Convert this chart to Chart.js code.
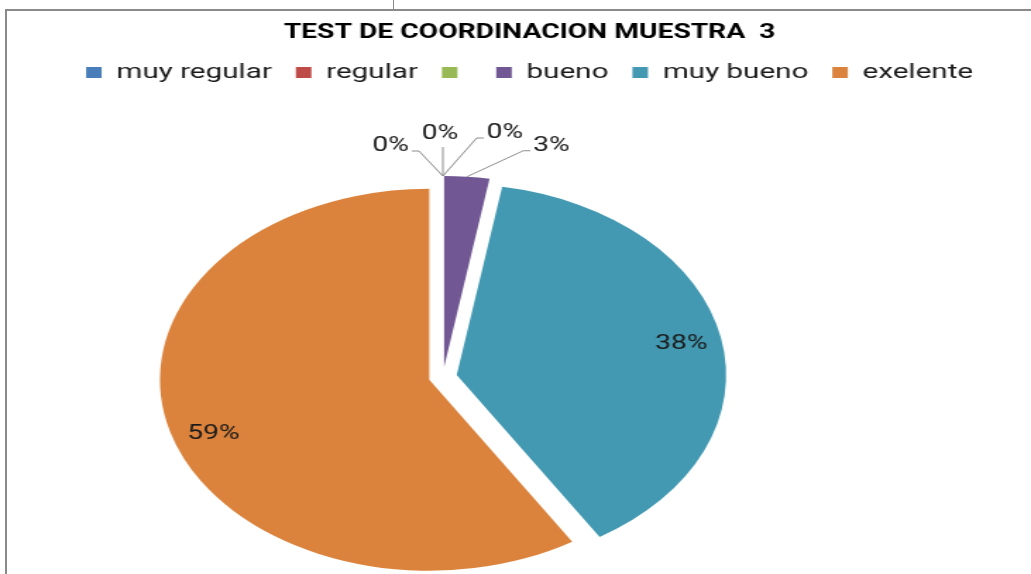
<!DOCTYPE html>
<html>
<head>
<meta charset="utf-8">
<script src="https://cdn.jsdelivr.net/npm/chart.js@4.4.0/dist/chart.umd.min.js"></script>
<style>
  html, body { margin: 0; padding: 0; background: #fff; overflow: hidden; }
  #stage { position: relative; width: 1031px; height: 574px; }
  /* the reference is a horizontally stretched picture, so the canvas is too */
  #wrap { position: absolute; left: 0; top: 0; width: 731px; height: 574px;
          transform: scaleX(1.4104); transform-origin: 0 0; }
  .frame { position: absolute; background: #8a8a8a; }
</style>
</head>
<body>
<div id="stage">
  <div id="wrap"><canvas id="pie" width="731" height="574"></canvas></div>
  <div class="frame" style="left:5px;top:9px;width:1026px;height:2px"></div>
  <div class="frame" style="left:5px;top:9px;width:2px;height:565px"></div>
  <div class="frame" style="left:393px;top:0;width:1px;height:10px"></div>
</div>
<script>
const chartTitle = 'TEST DE COORDINACION MUESTRA  3';
const categories = ['muy regular', 'regular', '', 'bueno', 'muy bueno', 'exelente'];
const percentValues = [0, 0, 0, 2.7, 38.4, 58.9];
const sliceColors = ['#4A7EBB', '#BE4B48', '#98B954', '#715793', '#4299B1', '#DB833C'];

// pie placement (canvas px, before the stretch)
const PIE_CX = 314, PIE_CY = 377, PIE_R = 191, EXPLODE = 10;

// leader lines for the small slices: elbow offset from the slice edge, text side
const LEADERS = [
    { dx: -17, dy: -25, side: -1 },
    { dx: 0, dy: -29, side: 0 },
    { dx: 24, dy: -38, side: 1 },
    { dx: 40, dy: -26, side: 1 }
];

const placePie = {
    id: 'placePie',
    afterLayout(chart) {
        const a = chart.chartArea;
        a.left = PIE_CX - PIE_R; a.right = PIE_CX + PIE_R;
        a.top = PIE_CY - PIE_R; a.bottom = PIE_CY + PIE_R;
        a.width = a.right - a.left; a.height = a.bottom - a.top;
    }
};

const explode = {
    id: 'explode',
    afterDatasetsUpdate(chart) {
        chart.getDatasetMeta(0).data.forEach(arc => {
            const mid = (arc.startAngle + arc.endAngle) / 2;
            arc.x += Math.cos(mid) * EXPLODE;
            arc.y += Math.sin(mid) * EXPLODE;
        });
    }
};

const pctLabels = {
    id: 'pctLabels',
    afterDatasetsDraw(chart) {
        const ctx = chart.ctx;
        const data = chart.data.datasets[0].data;
        const total = data.reduce((a, b) => a + b, 0);
        ctx.save();
        ctx.font = '20px Roboto';
        ctx.fillStyle = '#1a1a1a';
        ctx.strokeStyle = '#8c8c8c';
        ctx.lineWidth = 1;
        ctx.textBaseline = 'middle';
        let k = 0;
        chart.getDatasetMeta(0).data.forEach((arc, i) => {
            const frac = data[i] / total;
            const text = Math.round(frac * 100) + '%';
            const mid = (arc.startAngle + arc.endAngle) / 2;
            if (frac >= 0.1) {
                // labels sit a bit below the bisector, as in the original
                const a = mid + (Math.cos(mid) < 0 ? -0.06 : 0);
                ctx.textAlign = 'center';
                ctx.fillText(text, arc.x + Math.cos(a) * arc.outerRadius * 0.85,
                                   arc.y + Math.sin(a) * arc.outerRadius * 0.85);
                return;
            }
            const L = LEADERS[k++];
            const ax = arc.x + Math.cos(mid) * arc.outerRadius;
            const ay = arc.y + Math.sin(mid) * arc.outerRadius;
            const ex = ax + L.dx, ey = ay + L.dy;
            ctx.beginPath();
            ctx.moveTo(ax, ay);
            ctx.lineTo(ex, ey);
            if (L.side) ctx.lineTo(ex + L.side * 5, ey);
            ctx.stroke();
            if (L.side === 0) {
                ctx.textAlign = 'center';
                ctx.fillText(text, ex - 2, ey - 13);
            } else {
                ctx.textAlign = L.side < 0 ? 'right' : 'left';
                ctx.fillText(text, ex + L.side * 7, ey - 5);
            }
        });
        ctx.restore();
    }
};

function draw() {
    new Chart(document.getElementById('pie'), {
        type: 'pie',
        data: {
            labels: categories,
            datasets: [{
                data: percentValues,
                backgroundColor: sliceColors,
                borderWidth: 0,
                clip: false
            }]
        },
        options: {
            responsive: false,
            animation: false,
            events: [],
            radius: PIE_R,
            layout: { padding: { left: 20 } },
            plugins: {
                title: {
                    display: true,
                    text: chartTitle,
                    color: '#000',
                    font: { family: 'Roboto', size: 20, weight: 'bold' },
                    padding: { top: 21, bottom: 0 }
                },
                legend: {
                    position: 'top',
                    labels: {
                        boxWidth: 11,
                        boxHeight: 11,
                        padding: 17,
                        color: '#1a1a1a',
                        font: { family: 'Roboto', size: 21 }
                    }
                },
                tooltip: { enabled: false }
            }
        },
        plugins: [placePie, explode, pctLabels]
    });
}

document.fonts.load('20px Roboto').then(draw, draw);
</script>
</body>
</html>
